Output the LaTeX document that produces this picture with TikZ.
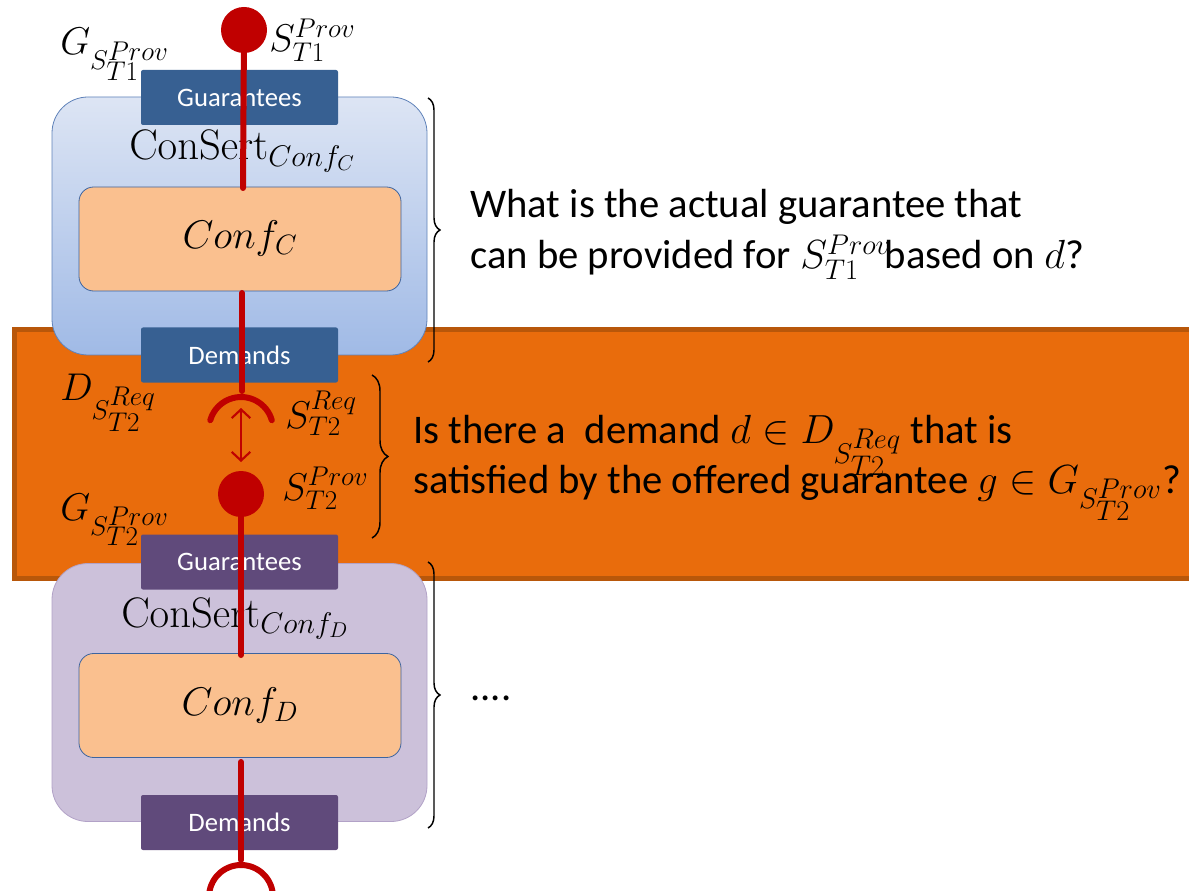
\RequirePackage{fix-cm}
\documentclass[tikz,border=0pt]{standalone}
\usepackage[no-math]{fontspec}
\setmainfont{Carlito}
\usetikzlibrary{arrows.meta,decorations.pathreplacing}

\definecolor{bandfill}{RGB}{233,108,12}
\definecolor{banddraw}{RGB}{184,87,10}
\definecolor{blueTop}{RGB}{221,229,244}
\definecolor{blueBot}{RGB}{160,186,230}
\definecolor{blueEdge}{RGB}{95,130,185}
\definecolor{lilac}{RGB}{204,193,218}
\definecolor{lilacEdge}{RGB}{178,162,199}
\definecolor{peach}{RGB}{250,192,143}
\definecolor{peachEdge}{RGB}{60,100,160}
\definecolor{portBlue}{RGB}{55,96,146}
\definecolor{portPurple}{RGB}{96,74,123}
\definecolor{wire}{RGB}{192,0,0}

% nested interface names keep script size in second-level indices
\newcommand{\ifc}[3]{#1_{\scriptstyle S_{\scriptstyle #2}^{\scriptstyle #3}}}

\tikzset{
  consertbox/.style={rounded corners=27pt, minimum width=281.25pt, minimum height=193.5pt, inner sep=0pt, line width=0.6pt},
  confbox/.style={rounded corners=11pt, fill=peach, draw=peachEdge, line width=0.6pt,
    minimum width=241.5pt, minimum height=78pt, inner sep=0pt,
    font=\fontsize{30}{36}\selectfont},
  portbox/.style={rounded corners=1.5pt, minimum width=147.75pt, minimum height=41.25pt, inner sep=0pt,
    text=white, font=\fontsize{20}{24}\selectfont},
  namelbl/.style={inner sep=0pt, anchor=base west, font=\fontsize{32}{36}\selectfont},
  wireline/.style={draw=wire, line width=4.5pt, line cap=round},
  ball/.style={circle, fill=wire, minimum size=34.5pt, inner sep=0pt},
  lbl/.style={inner sep=0pt, anchor=base west, font=\fontsize{29}{32}\selectfont},
  bigtxt/.style={inner sep=0pt, anchor=base west, font=\fontsize{30.5}{36}\selectfont},
  rbrace/.style={draw=black, line width=1.1pt, decorate, decoration={brace, amplitude=#1}},
}

\begin{document}
\begin{tikzpicture}[x=0.75pt, y=-0.75pt]
\useasboundingbox (0,0) rectangle (1189,891);
\clip (0,0) rectangle (1189,891);

% orange band behind everything
\draw[fill=bandfill, draw=banddraw, line width=3.75pt] (14.5,329.5) rectangle (1210,578.5);

% upper ConSert
\node[consertbox, draw=blueEdge, top color=blueTop, bottom color=blueBot] (consC) at (239.5,226) {};
\node[confbox] (confC) at (240,239) {$Conf_C$};
\node[portbox, fill=portBlue] (guarC) at (239.5,97.5) {Guarantees};
\node[portbox, fill=portBlue] (demC) at (239.5,355) {Demands};
\node[namelbl] (nameC) at (129,160) {$\mathrm{ConSert}_{Conf_C}$};

% lower ConSert
\node[consertbox, draw=lilacEdge, fill=lilac] (consD) at (239.5,692.5) {};
\node[confbox] (confD) at (240,705.5) {$Conf_D$};
\node[portbox, fill=portPurple] (guarD) at (239.5,562) {Guarantees};
\node[portbox, fill=portPurple] (demD) at (239.5,822.5) {Demands};
\node[namelbl] (nameD) at (121,627) {$\mathrm{ConSert}_{Conf_D}$};

% wires, sockets and balls
\node[ball] (provT1) at (244,30) {};
\coordinate (inC) at (243,188);
\draw[wireline] (provT1.center) -- (inC);

\coordinate (outC) at (242,293);
\coordinate (reqEnd) at (242,391);
\draw[wireline] (outC) -- (reqEnd);
\coordinate (sockA) at (271.8,420.2);
\draw[wireline] (sockA) arc[start angle=16, end angle=164, radius=24pt];

\coordinate (arTop) at (241,408);
\coordinate (arBot) at (241,462);
\draw[draw=wire, line width=1.6pt, {Straight Barb[length=6.5pt,width=14pt]}-{Straight Barb[length=6.5pt,width=14pt]}] (arTop) -- (arBot);

\node[ball] (provT2) at (241,494) {};
\coordinate (inD) at (241,655);
\draw[wireline] (provT2.center) -- (inD);

\coordinate (outD) at (241,762);
\coordinate (reqD) at (241,860);
\draw[wireline] (outD) -- (reqD);
\coordinate (sockB) at (273,897);
\draw[wireline] (sockB) arc[start angle=0, end angle=180, radius=24pt];

% interface labels
\node[lbl] (lGT1) at (60,55) {$\ifc{G}{T1}{Prov}$};
\node[lbl] (lST1) at (269,52) {$S_{T1}^{Prov}$};
\node[lbl] (lDT2) at (60,400) {$\ifc{D}{T2}{Req}$};
\node[lbl] (lSR) at (285,428) {$S_{T2}^{Req}$};
\node[lbl] (lSP) at (282,500) {$S_{T2}^{Prov}$};
\node[lbl] (lGT2) at (60,520) {$\ifc{G}{T2}{Prov}$};

% braces
\coordinate (b1t) at (428,98);  \coordinate (b1b) at (428,362);
\coordinate (b2t) at (372,375); \coordinate (b2b) at (372,538);
\coordinate (b3t) at (428,562); \coordinate (b3b) at (428,828);
\draw[rbrace=9pt] (b1t) -- (b1b);
\draw[rbrace=12pt] (b2t) -- (b2b);
\draw[rbrace=9pt] (b3t) -- (b3b);

% questions
\node[bigtxt] (q1a) at (470,218) {What is the actual guarantee that};
\node[bigtxt] (q1b) at (470,269) {can be provided for $S_{T1}^{Prov}$\kern-0.15em based on $d$?};
\node[bigtxt] (q2a) at (413,443) {Is there a\ \ demand $d\in \ifc{D}{T2}{Req}$ that is};
\node[bigtxt] (q2b) at (413,493) {satisfied by the offered guarantee $g\in \ifc{G}{T2}{Prov}$?};
\node[bigtxt] (q3) at (470,700) {....};
\end{tikzpicture}
\end{document}
